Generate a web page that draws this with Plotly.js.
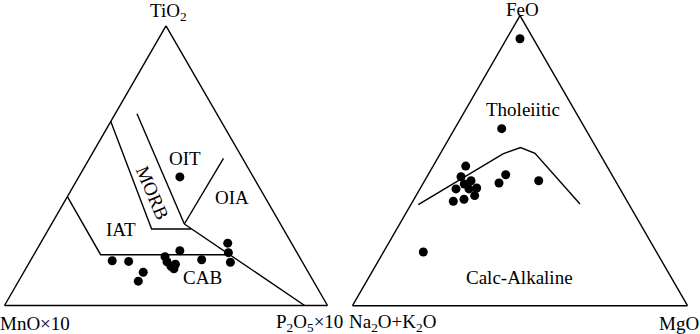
<!DOCTYPE html>
<html>
<head>
<meta charset="utf-8">
<script src="https://cdn.plot.ly/plotly-3.0.1.min.js"></script>
<style>
  html, body { margin: 0; padding: 0; background: #fff; }
  #chart { width: 700px; height: 334px; }
</style>
</head>
<body>
<div id="chart"></div>
<script>
// left diagram: TiO2 - MnOx10 - P2O5x10 (values in %, a = TiO2, b = MnO, c = P2O5)
const sampleTiO2 = [45.97, 22.30, 18.88, 15.47, 19.60, 16.37, 16.01, 15.76, 11.87, 8.71, 17.45, 15.65, 14.03, 14.75, 13.13];
const sampleMnO = [22.72, 19.74, 21.24, 22.33, 35.91, 30.77, 58.65, 53.68, 51.12, 54.23, 41.58, 41.87, 41.45, 39.71, 40.98];
const sampleP2O5 = [31.31, 57.96, 59.88, 62.20, 44.49, 52.86, 25.34, 30.56, 37.01, 37.06, 40.97, 42.48, 44.52, 45.54, 45.89];

// field boundaries, each point [TiO2, MnO, P2O5]
const morbOuter = [[65.8, 34.2, 0], [27.34, 40.78, 31.88], [27.34, 28.51, 44.15]];
const morbInner = [[68.53, 24.72, 6.75], [29.14, 29.75, 41.11]];
const oiaLine = [[52.59, 5.91, 41.5], [29.14, 29.75, 41.11]];
const cabLine = [[29.14, 29.75, 41.11], [0, 7.06, 92.94]];
const iatLine = [[38.92, 61.08, 0], [18.17, 61.16, 20.67], [18.17, 21.28, 60.55]];

// right diagram: FeO - Na2O+K2O - MgO (a = FeO, b = alkali, c = MgO)
const sampleFeO = [92.01, 61.02, 48.13, 44.46, 43.09, 41.96, 40.25, 40.25, 40.59, 36.00, 36.68, 37.95, 45.15, 42.30, 43.09, 18.51];
const sampleAlk = [4.00, 24.95, 42.14, 45.38, 43.08, 45.65, 48.98, 45.10, 42.63, 51.91, 48.38, 44.55, 31.69, 35.12, 22.87, 69.61];
const sampleMgO = [3.99, 14.03, 9.73, 10.16, 13.83, 12.39, 10.77, 14.65, 16.78, 12.09, 14.94, 17.50, 23.16, 22.58, 34.04, 11.88];

const thCaLine = [[34.86, 62.93, 2.21], [52.35, 28.90, 18.75], [54.51, 22.59, 22.90], [52.52, 19.26, 28.22], [35.04, 14.57, 50.39]];

function boundary(pts, sub) {
  return {
    type: "scatterternary",
    subplot: sub,
    mode: "lines",
    a: pts.map((p) => p[0]),
    b: pts.map((p) => p[1]),
    c: pts.map((p) => p[2]),
    line: { color: "black", width: 1.4 },
    hoverinfo: "skip",
  };
}

function samples(a, b, c, sub) {
  return {
    type: "scatterternary",
    subplot: sub,
    mode: "markers",
    a: a,
    b: b,
    c: c,
    marker: { color: "black", size: 9 },
  };
}

const traces = [
  boundary(morbOuter, "ternary"),
  boundary(morbInner, "ternary"),
  boundary(oiaLine, "ternary"),
  boundary(cabLine, "ternary"),
  boundary(iatLine, "ternary"),
  samples(sampleTiO2, sampleMnO, sampleP2O5, "ternary"),
  boundary(thCaLine, "ternary2"),
  samples(sampleFeO, sampleAlk, sampleMgO, "ternary2"),
];

const axisStyle = {
  showgrid: false,
  showticklabels: false,
  showline: true,
  ticks: "",
  linecolor: "black",
  linewidth: 1.4,
  title: { text: "" },
};

// labels placed by pixel position in the 700x334 page
function label(text, px, py, size, angle) {
  return {
    text: text,
    xref: "paper",
    yref: "paper",
    x: px / 700,
    y: 1 - py / 334,
    xanchor: "center",
    yanchor: "middle",
    showarrow: false,
    textangle: angle || 0,
    font: { family: "Liberation Serif, Times New Roman, serif", size: size, color: "black" },
  };
}

const layout = {
  width: 700,
  height: 334,
  margin: { l: 0, r: 0, t: 0, b: 0 },
  paper_bgcolor: "white",
  showlegend: false,
  ternary: {
    sum: 100,
    domain: { x: [4.5 / 700, 327.5 / 700], y: [28.5 / 334, 308.2 / 334] },
    bgcolor: "white",
    aaxis: axisStyle,
    baxis: axisStyle,
    caxis: axisStyle,
  },
  ternary2: {
    sum: 100,
    domain: { x: [352.5 / 700, 687.5 / 700], y: [28.3 / 334, 318.4 / 334] },
    bgcolor: "white",
    aaxis: axisStyle,
    baxis: axisStyle,
    caxis: axisStyle,
  },
  annotations: [
    label("TiO<sub>2</sub>", 168, 12, 19),
    label("MnO×10", 35, 323, 19),
    label("P<sub>2</sub>O<sub>5</sub>×10", 309, 323, 19),
    label("FeO", 522, 9, 19),
    label("Na<sub>2</sub>O+K<sub>2</sub>O", 392, 323, 19),
    label("MgO", 679, 323, 19),
    label("OIT", 185, 158, 19),
    label("OIA", 232, 197, 19),
    label("MORB", 152, 193, 19, 67),
    label("IAT", 121, 229, 19),
    label("CAB", 202, 277, 19),
    label("Tholeiitic", 523, 109, 19),
    label("Calc-Alkaline", 519, 277, 19),
  ],
};

Plotly.newPlot("chart", traces, layout, { displayModeBar: false, staticPlot: true });
</script>
</body>
</html>
